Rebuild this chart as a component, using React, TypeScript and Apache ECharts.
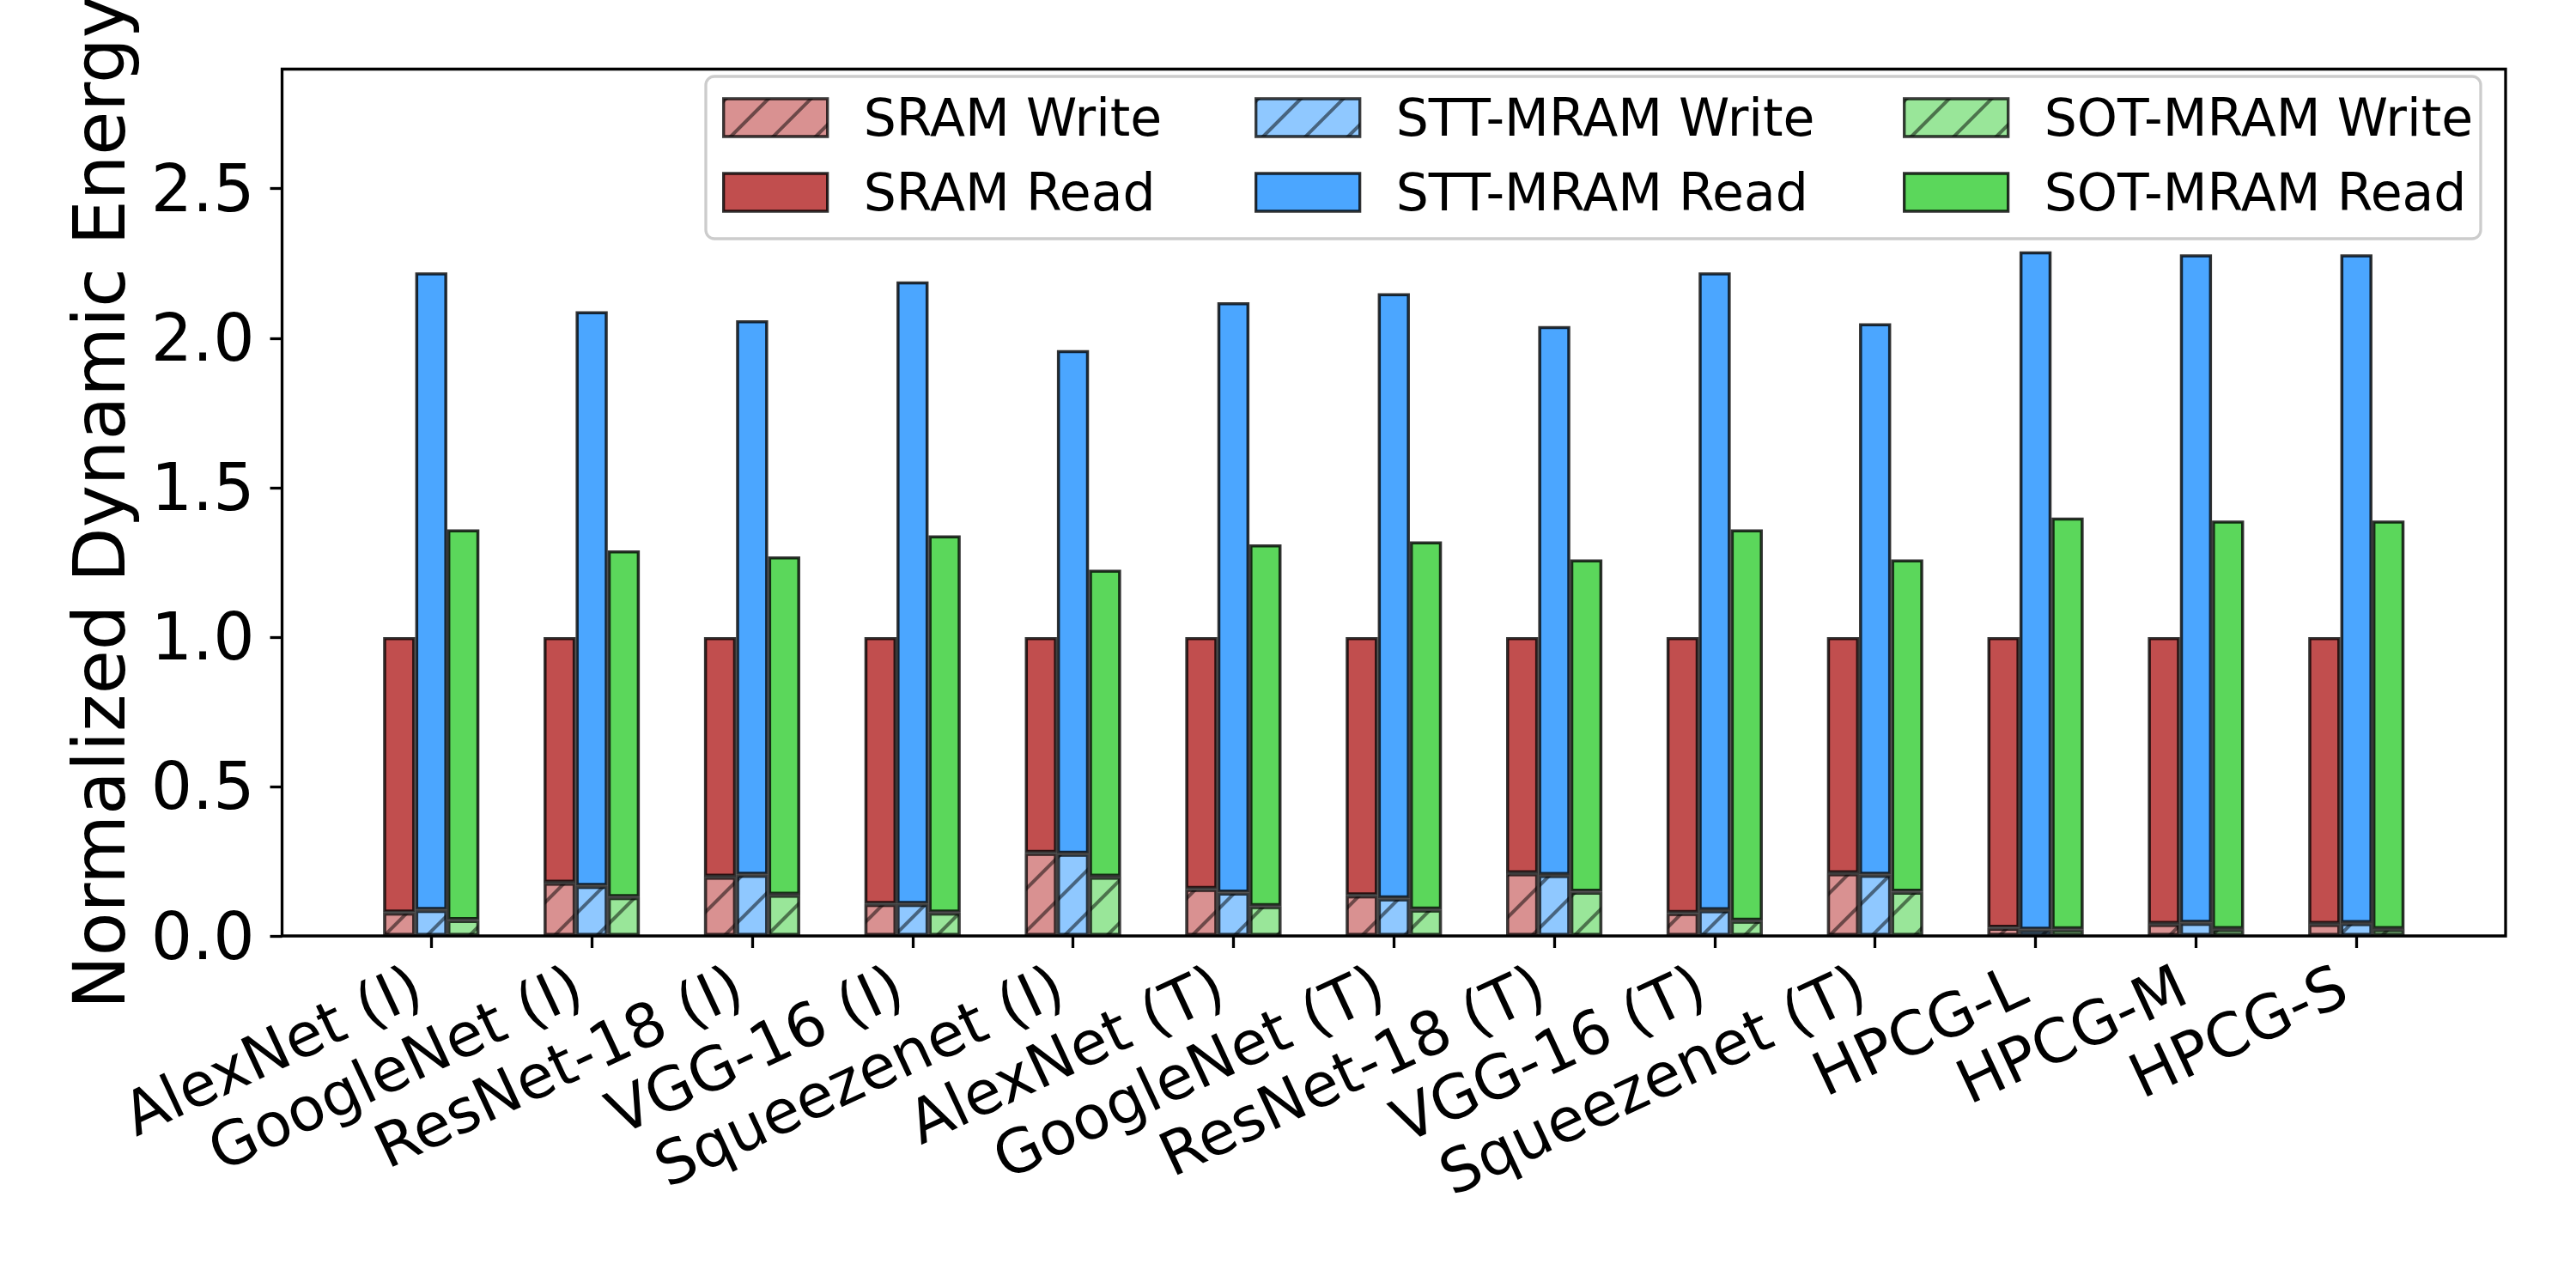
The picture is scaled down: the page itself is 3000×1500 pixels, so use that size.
import React, { useEffect, useRef } from "react";
import * as echarts from "echarts";

// ---------- data ----------
const categories = [
  "AlexNet (I)",
  "GoogleNet (I)",
  "ResNet-18 (I)",
  "VGG-16 (I)",
  "Squeezenet (I)",
  "AlexNet (T)",
  "GoogleNet (T)",
  "ResNet-18 (T)",
  "VGG-16 (T)",
  "Squeezenet (T)",
  "HPCG-L",
  "HPCG-M",
  "HPCG-S",
];

const sramWrite = [0.078, 0.178, 0.198, 0.107, 0.278, 0.157, 0.136, 0.21, 0.077, 0.21, 0.027, 0.04, 0.04];
const sramTotal = [1, 1, 1, 1, 1, 1, 1, 1, 1, 1, 1, 1, 1];

const sttWrite = [0.087, 0.167, 0.205, 0.107, 0.275, 0.145, 0.126, 0.204, 0.086, 0.205, 0.021, 0.044, 0.043];
const sttTotal = [2.22, 2.09, 2.06, 2.19, 1.96, 2.12, 2.15, 2.04, 2.22, 2.05, 2.29, 2.28, 2.28];

const sotWrite = [0.053, 0.13, 0.138, 0.078, 0.198, 0.1, 0.088, 0.148, 0.051, 0.148, 0.022, 0.023, 0.023];
const sotTotal = [1.36, 1.29, 1.27, 1.34, 1.225, 1.31, 1.32, 1.26, 1.36, 1.26, 1.4, 1.39, 1.39];

const yTicks = [0, 0.5, 1.0, 1.5, 2.0, 2.5];
const yMax = 2.9;

const legendColumns = [
  ["SRAM Write", "SRAM Read"],
  ["STT-MRAM Write", "STT-MRAM Read"],
  ["SOT-MRAM Write", "SOT-MRAM Read"],
];

// ---------- styling / layout ----------
const FONT = "DejaVu Sans";
const W = 3000;
const H = 1500;
const plotLeft = 328.5;
const plotRight = 2918;
const plotTop = 80.5;
const plotBottom = 1090;
const plotW = plotRight - plotLeft;
const plotH = plotBottom - plotTop;

// matplotlib-like x limits: bars span [-0.3, n-1+0.3], 5% margins
const dataLo = -0.3;
const dataHi = categories.length - 1 + 0.3;
const xMin = dataLo - 0.05 * (dataHi - dataLo);
const xMax = dataHi + 0.05 * (dataHi - dataLo);
const unit = plotW / (xMax - xMin);
const barsLeft = plotLeft + (-0.5 - xMin) * unit;
const barsW = categories.length * unit;

const groups = [
  { key: "sram", write: sramWrite, total: sramTotal, names: ["SRAM Write", "SRAM Read"], light: "#d99191", dark: "#c14e4e" },
  { key: "stt", write: sttWrite, total: sttTotal, names: ["STT-MRAM Write", "STT-MRAM Read"], light: "#8fc8ff", dark: "#4ba6ff" },
  { key: "sot", write: sotWrite, total: sotTotal, names: ["SOT-MRAM Write", "SOT-MRAM Read"], light: "#99e699", dark: "#5bd75b" },
];

const hatch = {
  symbol: "rect",
  symbolSize: 1,
  color: "rgba(0,0,0,0.5)",
  dashArrayX: [1, 0],
  dashArrayY: [4, 31],
  rotation: -Math.PI / 4,
};

function buildOption() {
  const series: any[] = [];
  groups.forEach((g) => {
    series.push({
      name: g.names[0],
      type: "bar",
      stack: g.key,
      xAxisIndex: 1,
      yAxisIndex: 1,
      barGap: "0%",
      barCategoryGap: "40%",
      data: g.write,
      itemStyle: { color: g.light, borderColor: "rgba(0,0,0,0.5)", borderWidth: 3.5, decal: hatch },
      emphasis: { disabled: true },
    });
    series.push({
      name: g.names[1],
      type: "bar",
      stack: g.key,
      xAxisIndex: 1,
      yAxisIndex: 1,
      barGap: "0%",
      barCategoryGap: "40%",
      data: g.total.map((t, i) => +(t - g.write[i]).toFixed(4)),
      itemStyle: { color: g.dark, borderColor: "rgba(0,0,0,0.8)", borderWidth: 3.5 },
      emphasis: { disabled: true },
    });
  });

  const colLefts = [841, 1461, 2216];
  const legend = legendColumns.map((names, k) => ({
    data: names.map((n) => ({ name: n, icon: "rect" })),
    orient: "vertical",
    left: colLefts[k],
    top: 107,
    itemWidth: 121,
    itemHeight: 44,
    itemGap: 27,
    padding: 0,
    selectedMode: false,
    itemStyle: { borderWidth: 3.3 },
    textStyle: { fontSize: 60, fontFamily: FONT, color: "#000", lineHeight: 60, padding: [0, 0, 0, 37] },
  }));

  return {
    animation: false,
    backgroundColor: "#fff",
    textStyle: { fontFamily: FONT },
    grid: [
      {
        left: plotLeft, top: plotTop, width: plotW, height: plotH,
        show: true, borderColor: "#000", borderWidth: 3.3, backgroundColor: "transparent",
        containLabel: false, outerBoundsMode: "none",
      },
      { left: barsLeft, top: plotTop, width: barsW, height: plotH, show: false, containLabel: false, outerBoundsMode: "none" },
    ],
    xAxis: [
      { gridIndex: 0, type: "value", min: xMin, max: xMax, show: false, axisLine: { onZero: false } },
      {
        gridIndex: 1,
        type: "category",
        data: categories,
        axisLine: { show: false, onZero: false },
        axisTick: { show: true, alignWithLabel: true, length: 14, lineStyle: { color: "#000", width: 3.3 } },
        axisLabel: { interval: 0, rotate: 25, fontSize: 70.5, fontFamily: FONT, color: "#000", margin: 47, padding: [0, 17, 0, 0] },
        splitLine: { show: false },
      },
    ],
    yAxis: [
      {
        gridIndex: 0,
        type: "value",
        min: 0,
        max: yMax,
        position: "left",
        axisLine: { show: false, onZero: false },
        axisTick: { show: true, length: 14, customValues: yTicks, lineStyle: { color: "#000", width: 3.3 } },
        axisLabel: { customValues: yTicks, formatter: (v: number) => v.toFixed(1), fontSize: 76, fontFamily: FONT, color: "#000", margin: 32 },
        splitLine: { show: false },
        name: "Normalized Dynamic Energy",
        nameLocation: "middle",
        nameRotate: 90,
        nameGap: 171,
        nameTextStyle: { fontSize: 83, fontFamily: FONT, color: "#000" },
      },
      { gridIndex: 1, type: "value", min: 0, max: yMax, show: false, axisLine: { onZero: false } },
    ],
    legend,
    graphic: [
      {
        type: "rect",
        z: 1,
        shape: { x: 822, y: 89, width: 2067, height: 189, r: 10 },
        style: { fill: "rgba(255,255,255,0.8)", stroke: "#cccccc", lineWidth: 3.3 },
      },
    ],
    series,
  };
}

export default function App() {
  const ref = useRef<HTMLDivElement>(null);
  useEffect(() => {
    document.body.style.margin = "0";
    if (!ref.current) return;
    const chart = echarts.init(ref.current, undefined, { renderer: "svg", width: W, height: H });
    chart.setOption(buildOption() as any);
    return () => chart.dispose();
  }, []);
  return <div ref={ref} style={{ width: W, height: H, background: "#fff" }} />;
}
